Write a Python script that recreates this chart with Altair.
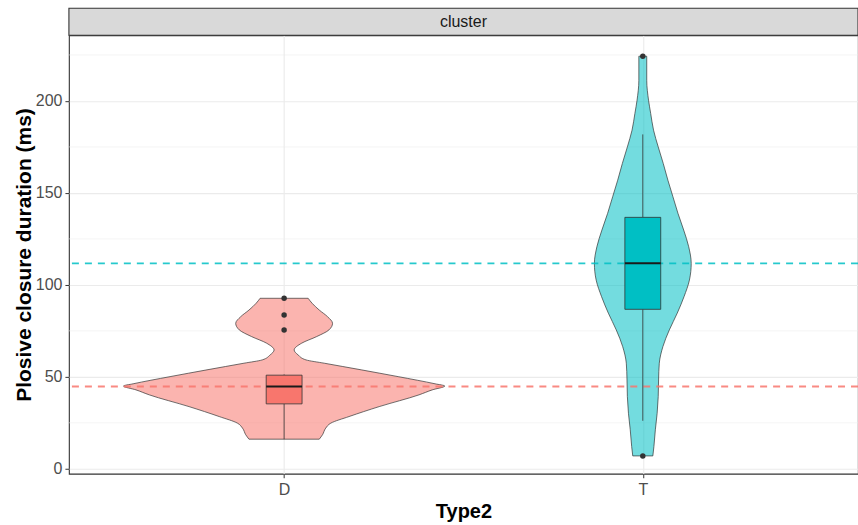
import altair as alt
import pandas as pd

# Groups on the x axis and their fill colours
categories = ["D", "T"]
fill_colors = ["#F8766D", "#00BFC4"]
facet_label = ["cluster"]

# Violin outlines: closure duration (ms) and half width (in category units)
d_violin_y = [16.1, 18.5, 22.1, 24.8, 28.4, 33.8, 40.2, 42.9, 45.0, 46.2, 50.1, 53.8,
              57.4, 59.2, 61.9, 64.6, 68.3, 71.9, 75.5, 79.1, 82.7, 86.3, 90.0, 92.7]
d_violin_w = [0.098, 0.107, 0.116, 0.130, 0.181, 0.265, 0.376, 0.413, 0.448, 0.421, 0.318, 0.215,
              0.112, 0.061, 0.039, 0.028, 0.049, 0.091, 0.125, 0.135, 0.121, 0.098, 0.078, 0.067]
t_violin_y = [7.0, 12.1, 21.2, 30.2, 39.3, 48.3, 57.4, 66.4, 75.5, 84.6, 93.6, 102.6, 111.7,
              120.7, 129.8, 138.9, 147.9, 156.9, 166.0, 175.0, 184.1, 193.2, 200.4, 211.2, 224.3]
t_violin_w = [0.028, 0.031, 0.035, 0.040, 0.043, 0.044, 0.046, 0.056, 0.074, 0.096, 0.115, 0.130, 0.135,
              0.128, 0.114, 0.098, 0.084, 0.070, 0.057, 0.043, 0.030, 0.022, 0.016, 0.011, 0.011]

# Box plot summaries per group
q1 = [35.3, 86.7]
median = [44.7, 111.7]
q3 = [50.9, 136.7]
whisker_lo = [16.1, 26.1]
whisker_hi = [51.3, 181.8]

# Outlying observations
d_outliers = [75.5, 83.6, 92.7]
t_outliers = [7.0, 224.3]

W, H = 790, 439

violin_df = pd.concat([
    pd.DataFrame({"group": "D", "pos": 1, "value": d_violin_y, "half": d_violin_w}),
    pd.DataFrame({"group": "T", "pos": 2, "value": t_violin_y, "half": t_violin_w}),
])
box_df = pd.DataFrame({
    "group": categories, "pos": [1, 2], "q1": q1, "median": median, "q3": q3,
    "wlo": whisker_lo, "whi": whisker_hi,
})
out_df = pd.concat([
    pd.DataFrame({"group": "D", "pos": 1, "value": d_outliers}),
    pd.DataFrame({"group": "T", "pos": 2, "value": t_outliers}),
])
minor_df = pd.DataFrame({"value": [25, 75, 125, 175, 225]})
strip_df = pd.DataFrame({"label": facet_label})

label_expr = "[" + ",".join("'%s'" % c for c in categories) + "][datum.value - 1]"

x_scale = alt.Scale(domain=[0.4, 2.6], nice=False, zero=False)
y_scale = alt.Scale(domain=[-2.7, 235.7], nice=False, zero=False)
color_scale = alt.Scale(domain=categories, range=fill_colors)

x_axis = alt.Axis(
    values=[1, 2], labelExpr=label_expr, grid=True, gridColor="#EBEBEB", gridWidth=1.1,
    domain=False, ticks=True, tickColor="#333333", tickSize=4, tickWidth=1,
    labelFontSize=16, labelColor="#4D4D4D", labelPadding=4,
    title="Type2", titleFontSize=20, titleFontWeight="bold", titleColor="#000000",
    titleX=W / 2, titleY=44, titleBaseline="alphabetic",
)
y_axis = alt.Axis(
    values=[0, 50, 100, 150, 200], grid=True, gridColor="#EBEBEB", gridWidth=1.1,
    domain=False, ticks=True, tickColor="#333333", tickSize=4, tickWidth=1,
    labelFontSize=16, labelColor="#4D4D4D", labelPadding=3,
    title="Plosive closure duration (ms)", titleFontSize=21, titleFontWeight="bold",
    titleColor="#000000", titleX=-38, titleY=H / 2, titleBaseline="alphabetic",
)

base_axes = alt.Chart(box_df).mark_point(opacity=0).encode(
    x=alt.X("pos:Q", scale=x_scale, axis=x_axis),
    y=alt.Y("median:Q", scale=y_scale, axis=y_axis),
)

minor_grid = alt.Chart(minor_df).mark_rule(color="#EBEBEB", strokeWidth=0.55).encode(
    y=alt.Y("value:Q", scale=y_scale)
)

violins = alt.Chart(violin_df).transform_calculate(
    lo="datum.pos - datum.half", hi="datum.pos + datum.half"
).mark_area(
    orient="horizontal", interpolate="monotone", fillOpacity=0.55,
    stroke="#333333", strokeWidth=0.7, strokeOpacity=1,
).encode(
    y=alt.Y("value:Q", scale=y_scale),
    x=alt.X("lo:Q", scale=x_scale),
    x2="hi:Q",
    color=alt.Color("group:N", scale=color_scale, legend=None),
)

median_lines = alt.Chart(box_df).mark_rule(
    strokeDash=[7, 6], strokeWidth=1.9, opacity=0.85
).encode(
    y=alt.Y("median:Q", scale=y_scale),
    color=alt.Color("group:N", scale=color_scale, legend=None),
)

whisker_low = alt.Chart(box_df).mark_rule(color="#333333", strokeWidth=0.8).encode(
    x=alt.X("pos:Q", scale=x_scale), y=alt.Y("wlo:Q", scale=y_scale), y2="q1:Q"
)
whisker_high = alt.Chart(box_df).mark_rule(color="#333333", strokeWidth=0.8).encode(
    x=alt.X("pos:Q", scale=x_scale), y=alt.Y("q3:Q", scale=y_scale), y2="whi:Q"
)

boxes = alt.Chart(box_df).transform_calculate(
    lo="datum.pos - 0.05", hi="datum.pos + 0.05"
).mark_rect(stroke="#333333", strokeWidth=0.8, opacity=1).encode(
    x=alt.X("lo:Q", scale=x_scale), x2="hi:Q",
    y=alt.Y("q1:Q", scale=y_scale), y2="q3:Q",
    color=alt.Color("group:N", scale=color_scale, legend=None),
)

medians = alt.Chart(box_df).transform_calculate(
    lo="datum.pos - 0.05", hi="datum.pos + 0.05"
).mark_rule(color="#1A1A1A", strokeWidth=2).encode(
    x=alt.X("lo:Q", scale=x_scale), x2="hi:Q", y=alt.Y("median:Q", scale=y_scale)
)

outliers = alt.Chart(out_df).mark_circle(size=30, color="#333333", opacity=1).encode(
    x=alt.X("pos:Q", scale=x_scale), y=alt.Y("value:Q", scale=y_scale)
)

strip_box = alt.Chart(strip_df).mark_rect(
    fill="#D9D9D9", stroke="#333333", strokeWidth=1.1
).encode(
    x=alt.value(0), x2=alt.value(W), y=alt.value(-27), y2=alt.value(0)
)
strip_text = alt.Chart(strip_df).mark_text(
    fontSize=16, color="#1A1A1A", baseline="middle", align="center"
).encode(
    text="label:N", x=alt.value(W / 2), y=alt.value(-13.5)
)

chart = alt.layer(
    base_axes, minor_grid, violins, median_lines, whisker_low, whisker_high,
    boxes, medians, outliers, strip_box, strip_text,
).properties(
    width=W, height=H,
    autosize=alt.AutoSizeParams(type="none"),
    padding={"left": 69, "top": 35, "right": 0, "bottom": 51},
).configure(
    font="Liberation Sans", background="#FFFFFF"
).configure_view(
    stroke="#333333", strokeWidth=1.1
)

chart.save("out.html", embed_options={"renderer": "svg", "actions": False})
